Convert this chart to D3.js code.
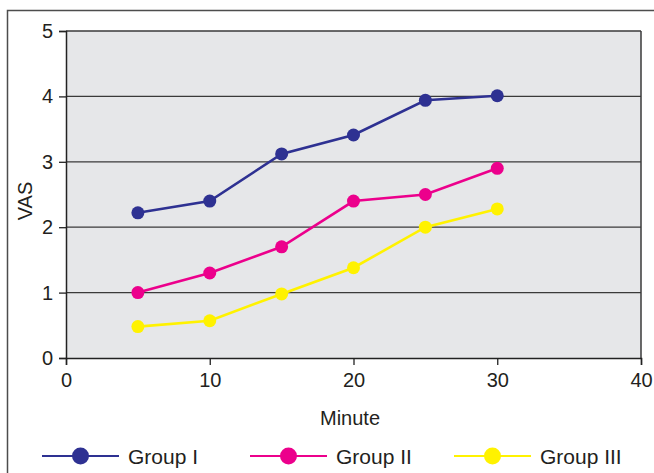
<!DOCTYPE html>
<html><head><meta charset="utf-8">
<script src="https://cdn.jsdelivr.net/npm/d3@7"></script>
<style>body{margin:0;background:#fff;} svg{display:block;font-family:"Liberation Sans",Arial,sans-serif;}</style>
</head><body>
<svg id="c" width="654" height="473"></svg>
<script>
const minutes = [5, 10, 15, 20, 25, 30];
const groupI = [2.22, 2.40, 3.12, 3.41, 3.94, 4.01];
const groupII = [1.00, 1.30, 1.70, 2.40, 2.50, 2.90];
const groupIII = [0.48, 0.57, 0.98, 1.38, 2.00, 2.28];
const seriesNames = ["Group I", "Group II", "Group III"];
const seriesColors = ["#2e3192", "#ec008c", "#fff200"];
const xTicks = [0, 10, 20, 30, 40];
const yTicks = [0, 1, 2, 3, 4, 5];

const series = [groupI, groupII, groupIII].map((v, i) => ({name: seriesNames[i], color: seriesColors[i], values: v}));

const svg = d3.select("#c");
const L = 66, T = 31, R = 641, B = 358;
const FS = 20;
const TXT = "#231f20";
const x = d3.scaleLinear().domain([0, 40]).range([L, R]);
const y = d3.scaleLinear().domain([0, 5]).range([B, T]);

// outer frame
svg.append("rect").attr("x", 7.5).attr("y", 10.5).attr("width", 680).attr("height", 500)
  .attr("fill", "none").attr("stroke", "#4d4d4d").attr("stroke-width", 1.5);

// plot background
svg.append("rect").attr("x", L).attr("y", T).attr("width", R - L).attr("height", B - T)
  .attr("fill", "#e6e7e9");

// gridlines
svg.append("g").selectAll("line").data(yTicks.filter(d => d > 0)).join("line")
  .attr("x1", L).attr("x2", R).attr("y1", d => y(d)).attr("y2", d => y(d))
  .attr("stroke", "#3a3a3a").attr("stroke-width", 1.3);

// right border
svg.append("line").attr("x1", R).attr("x2", R).attr("y1", T).attr("y2", B)
  .attr("stroke", "#3a3a3a").attr("stroke-width", 1.5);

// axes
const xAxis = svg.append("g").attr("transform", `translate(0,${B})`)
  .call(d3.axisBottom(x).tickValues(xTicks).tickFormat(d3.format("d")).tickSize(7).tickPadding(8));
const yAxis = svg.append("g").attr("transform", `translate(${L},0)`)
  .call(d3.axisLeft(y).tickValues(yTicks).tickFormat(d3.format("d")).tickSize(7).tickPadding(6));
[xAxis, yAxis].forEach(a => {
  a.attr("font-size", FS).attr("font-family", '"Liberation Sans",Arial,sans-serif');
  a.select(".domain").attr("stroke", "#222").attr("stroke-width", 1.5);
  a.selectAll(".tick line").attr("stroke", "#222").attr("stroke-width", 1.3);
  a.selectAll(".tick text").attr("font-size", FS).attr("fill", TXT);
});

// axis titles
svg.append("text").attr("x", 350).attr("y", 425).attr("text-anchor", "middle")
  .attr("font-size", FS).attr("fill", TXT).text("Minute");
svg.append("text").attr("transform", `translate(32,201) rotate(-90)`)
  .attr("text-anchor", "middle").attr("font-size", FS).attr("fill", TXT).text("VAS");

// lines and markers
const line = d3.line().x((d, i) => x(minutes[i])).y(d => y(d));
series.forEach(s => {
  svg.append("path").datum(s.values).attr("d", line)
    .attr("fill", "none").attr("stroke", s.color).attr("stroke-width", 2.6);
  svg.append("g").selectAll("circle").data(s.values).join("circle")
    .attr("cx", (d, i) => x(minutes[i])).attr("cy", d => y(d)).attr("r", 6.5)
    .attr("fill", s.color);
});

// legend
const legendX = [42, 250, 454];
const ly = 456;
series.forEach((s, i) => {
  const g = svg.append("g").attr("transform", `translate(${legendX[i]},${ly})`);
  g.append("line").attr("x1", 0).attr("x2", 77).attr("y1", 0).attr("y2", 0)
    .attr("stroke", s.color).attr("stroke-width", 2.2);
  g.append("circle").attr("cx", 38.5).attr("cy", 0).attr("r", 8.5).attr("fill", s.color);
  g.append("text").attr("x", 86).attr("y", 7.5).attr("font-size", 21).attr("fill", TXT).text(s.name);
});
</script>
</body></html>
